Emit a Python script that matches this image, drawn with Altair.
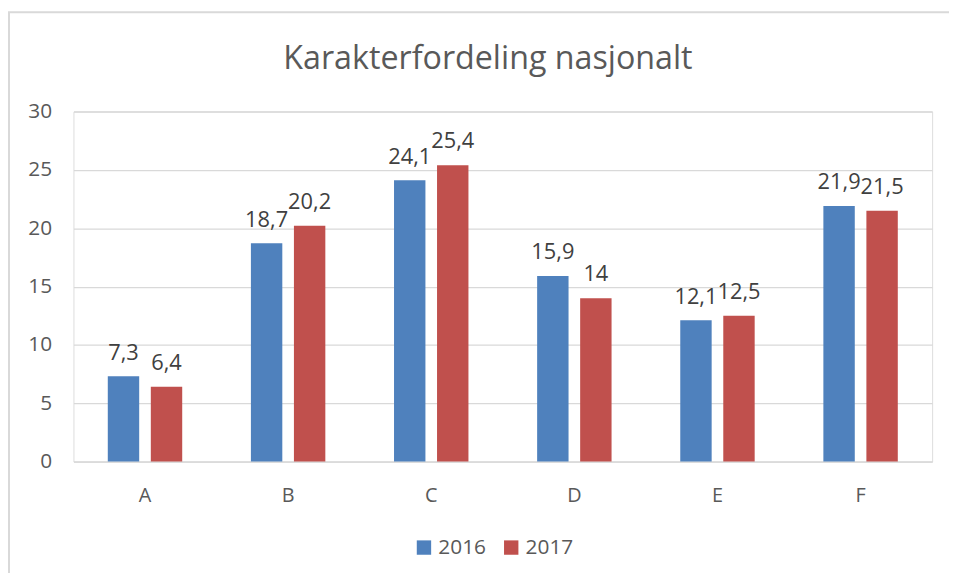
import altair as alt
import pandas as pd

categories = ["A", "B", "C", "D", "E", "F"]
values_2016 = [7.3, 18.7, 24.1, 15.9, 12.1, 21.9]
values_2017 = [6.4, 20.2, 25.4, 14.0, 12.5, 21.5]
series = ["2016", "2017"]
colors = ["#4F81BD", "#C0504D"]

rows = []
for c, a, b in zip(categories, values_2016, values_2017):
    rows.append({"Karakter": c, "År": series[0], "Verdi": a})
    rows.append({"Karakter": c, "År": series[1], "Verdi": b})
df = pd.DataFrame(rows)

FONT = "Open Sans"
GRAY = "#595959"

x_enc = alt.X("Karakter:N", sort=categories, title=None,
              scale=alt.Scale(paddingInner=0.48, paddingOuter=0.24),
              axis=alt.Axis(labelAngle=0, labelFontSize=20, labelColor=GRAY, labelFont=FONT,
                            ticks=False, domain=True, domainColor="#D9D9D9", labelPadding=24))
xoff = alt.XOffset("År:N", sort=series, scale=alt.Scale(paddingInner=0.27, paddingOuter=0))
y_enc = alt.Y("Verdi:Q", title=None,
              scale=alt.Scale(domain=[0, 30]),
              axis=alt.Axis(values=[0, 5, 10, 15, 20, 25, 30], labelFontSize=21, labelColor=GRAY,
                            labelFont=FONT, ticks=False, domain=False, gridColor="#D9D9D9",
                            gridWidth=1.3, labelPadding=22))

base = alt.Chart(df)

bars = base.mark_bar().encode(
    x=x_enc, xOffset=xoff, y=y_enc,
    color=alt.Color("År:N", sort=series, scale=alt.Scale(domain=series, range=colors),
                    legend=alt.Legend(title=None, orient="none", direction="horizontal",
                                      legendX=343, legendY=429, symbolType="square",
                                      symbolSize=210, symbolStrokeWidth=0, labelFontSize=21,
                                      labelColor=GRAY, labelFont=FONT, columnPadding=14,
                                      symbolOpacity=1)),
)

labels = base.transform_calculate(
    lab="replace(toString(datum.Verdi), '.', ',')"
).mark_text(dy=-17, baseline="alphabetic", fontSize=22, font=FONT, color="#404040").encode(
    x=alt.X("Karakter:N", sort=categories), xOffset=xoff, y="Verdi:Q", text="lab:N"
)

border = alt.Chart(pd.DataFrame({"k": [0]})).mark_rect(
    fill=None, stroke="#D9D9D9", strokeWidth=2
).encode(x=alt.value(-65), x2=alt.value(920), y=alt.value(-100), y2=alt.value(520))

chart = alt.layer(border, bars, labels).properties(
    width=866, height=353,
    title=alt.Title("Karakterfordeling nasjonalt", fontSize=32.5, font=FONT, fontWeight="normal",
                    color=GRAY, offset=-65, anchor="middle", dx=-15),
    autosize=alt.AutoSizeParams(type="none"),
    padding={"left": 66, "top": 102, "right": 17, "bottom": 110},
).configure_view(stroke=None).configure(background="white")

chart.save("out.html", embed_options={"renderer": "svg", "actions": False})
